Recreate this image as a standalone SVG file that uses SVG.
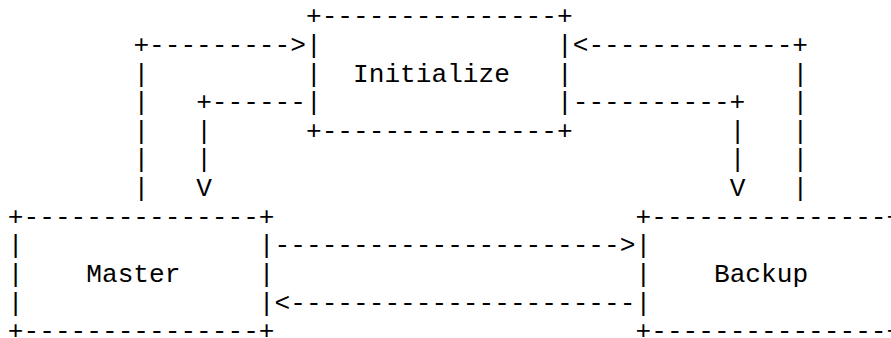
<svg xmlns="http://www.w3.org/2000/svg" width="891" height="338" viewBox="0 0 891 338">
<style>
  text { font-family: "Liberation Mono", "Courier New", monospace; font-size: 26.15px; fill: #000; white-space: pre; }
</style>
<rect width="891" height="338" fill="#fff"/>
<g id="connectors">
  <text x="133.39" y="52.85">+---------&gt;</text>
  <text x="572.76" y="52.85">&lt;-------------+</text>
  <text x="133.39" y="81.5">|</text>
  <text x="792.45" y="81.5">|</text>
  <text x="133.39" y="110.15">|</text>
  <text x="196.15" y="110.15">+------</text>
  <text x="572.76" y="110.15">----------+</text>
  <text x="792.45" y="110.15">|</text>
  <text x="133.39" y="138.8">|</text>
  <text x="196.15" y="138.8">|</text>
  <text x="729.68" y="138.8">|</text>
  <text x="792.45" y="138.8">|</text>
  <text x="133.39" y="167.45">|</text>
  <text x="196.15" y="167.45">|</text>
  <text x="729.68" y="167.45">|</text>
  <text x="792.45" y="167.45">|</text>
  <text x="133.39" y="196.1">|</text>
  <text x="196.15" y="196.1">V</text>
  <text x="729.68" y="196.1">V</text>
  <text x="792.45" y="196.1">|</text>
  <text x="274.61" y="253.4">----------------------&gt;</text>
  <text x="274.61" y="310.7">&lt;----------------------</text>
</g>
<g id="initialize">
  <text x="306.0" y="24.2">+---------------+</text>
  <text x="306.0" y="52.85" xml:space="preserve">|               |</text>
  <text x="306.0" y="81.5" xml:space="preserve">|  Initialize   |</text>
  <text x="306.0" y="110.15" xml:space="preserve">|               |</text>
  <text x="306.0" y="138.8">+---------------+</text>
</g>
<g id="master">
  <text x="7.85" y="224.75">+---------------+</text>
  <text x="7.85" y="253.4" xml:space="preserve">|               |</text>
  <text x="7.85" y="282.05" xml:space="preserve">|    Master     |</text>
  <text x="7.85" y="310.7" xml:space="preserve">|               |</text>
  <text x="7.85" y="339.35">+---------------+</text>
</g>
<g id="backup">
  <text x="635.53" y="224.75">+---------------+</text>
  <text x="635.53" y="253.4" xml:space="preserve">|               |</text>
  <text x="635.53" y="282.05" xml:space="preserve">|    Backup     |</text>
  <text x="635.53" y="310.7" xml:space="preserve">|               |</text>
  <text x="635.53" y="339.35">+---------------+</text>
</g>
</svg>
